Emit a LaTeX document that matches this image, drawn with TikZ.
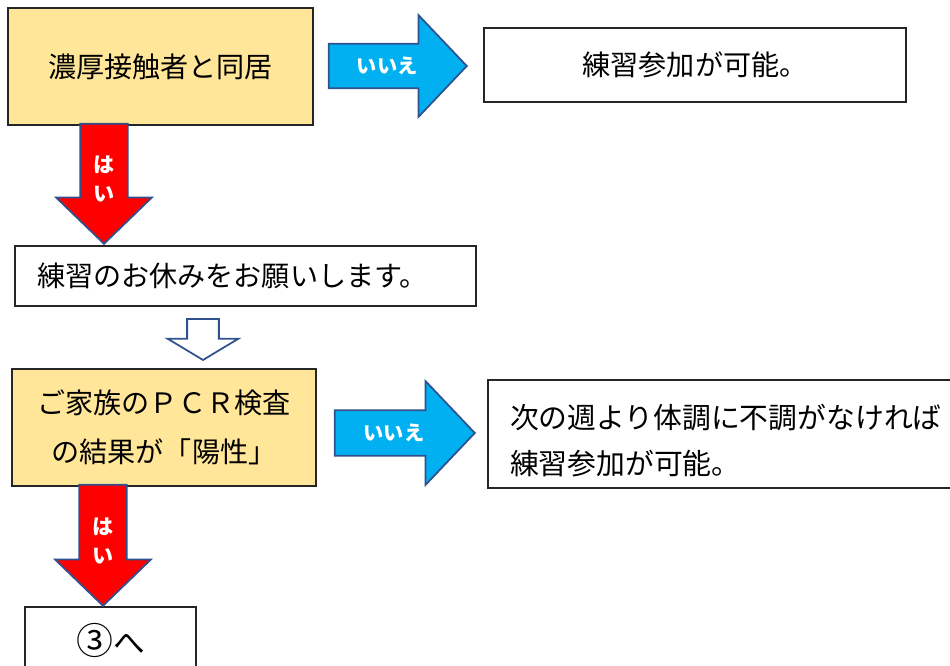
\documentclass[tikz,border=0pt]{standalone}
\usepackage{fontspec}
\setmainfont{Noto Sans CJK JP}
\usetikzlibrary{shapes.arrows}
\definecolor{boxyellow}{HTML}{FFE699}
\definecolor{arrowblue}{HTML}{00B0F0}
\definecolor{edgeblue}{HTML}{2F528F}

\begin{document}
\begin{tikzpicture}[x=0.02cm,y=-0.02cm]
 \tikzstyle{textbox} = [draw=black!85,line width=0.8pt,inner sep=0,font=\fontsize{16}{27.5}\selectfont]
 \tikzstyle{askbox} = [textbox,fill=boxyellow,align=center]
 \tikzstyle{leftbox} = [textbox,inner xsep=0.44cm,align=left]
 \tikzstyle{noarrow} = [single arrow,draw=edgeblue,line width=1pt,fill=arrowblue,text=white,
   font=\bfseries\fontsize{11.5}{14}\selectfont,inner xsep=0,inner ysep=0.22cm,anchor=tip,
   single arrow head extend=0.54cm,minimum width=2.04cm,single arrow tip angle=93]
 \tikzstyle{yesarrow} = [single arrow,draw=edgeblue,line width=1pt,fill=red,text=white,
   font=\bfseries\fontsize{12}{16.5}\selectfont,align=center,text width=0.9cm,inner sep=0,
   anchor=tip,shape border rotate=270,single arrow head extend=0.48cm,minimum width=1.92cm,
   minimum height=2.4cm,single arrow tip angle=92]

 \useasboundingbox (0,0) rectangle (950,666);
 \clip (0,0) rectangle (950,666);

% Boxes
 \node[askbox,minimum width=6.1cm,minimum height=2.34cm] (contact) at (160.5,66.5) {濃厚接触者と同居};
 \node[textbox,minimum width=8.44cm,minimum height=1.48cm] (ok1) at (695,65) {練習参加が可能。};
 \node[leftbox,text width=8.34cm,minimum height=1.2cm] (rest) at (245.5,276) {練習のお休みをお願いします。};
 \node[askbox,minimum width=6.08cm,minimum height=2.34cm] (pcr) at (164,427.5) {ご家族のＰＣＲ検査\\の結果が「陽性」};
 \node[leftbox,text width=8.56cm,minimum height=2.16cm,font=\fontsize{16.4}{26}\selectfont] (ok2) at (724,434)
   {\rule{0pt}{0.76cm}次の週より体調に不調がなければ\\練習参加が可能。};
 \node[textbox,minimum width=3.42cm,minimum height=1.32cm,font=\fontsize{18}{20}\selectfont] (next) at (110.5,640)
   {{\fontsize{21}{21}\selectfont ③}へ};

% Block arrows
 \node[noarrow,minimum height=2.76cm] (no1) at (468,66) {いいえ};
 \node[noarrow,minimum height=2.80cm,minimum width=2.08cm] (no2) at (476,433) {いいえ};
 \node[yesarrow] (yes1) at (104,245) {\rule{0pt}{0.61cm}は\\い};
 \node[yesarrow,minimum height=2.42cm] (yes2) at (103,607) {\rule{0pt}{0.61cm}は\\い};
 \node[single arrow,draw=edgeblue,line width=1pt,fill=white,inner xsep=0.3cm,inner ysep=0,anchor=tip,
   shape border rotate=270,minimum height=0.82cm,minimum width=1.38cm,
   single arrow head extend=0.39cm,single arrow tip angle=118] (down) at (203,361) {};

\end{tikzpicture}
\end{document}
